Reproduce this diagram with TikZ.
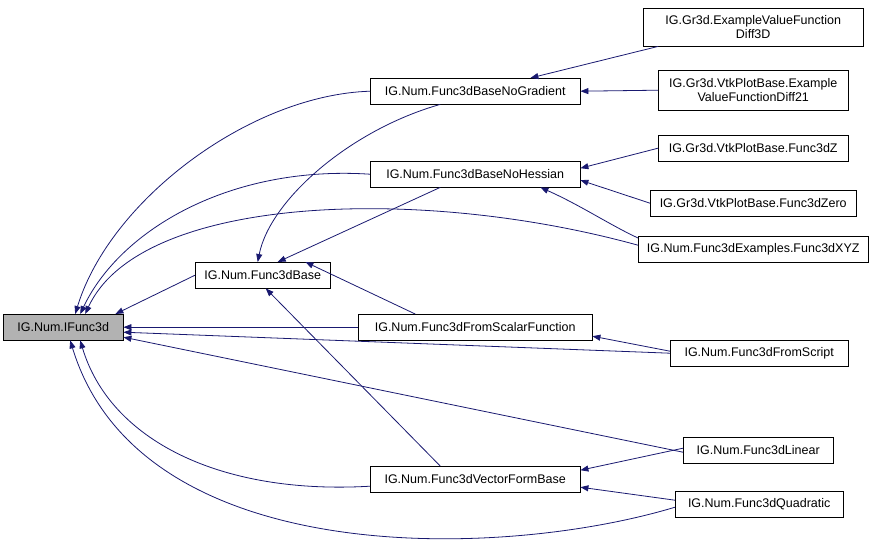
\documentclass[tikz,border=0pt]{standalone}
\usepackage{fontspec}
\setmainfont{Liberation Sans}
\usetikzlibrary{arrows.meta}
\begin{document}
\begin{tikzpicture}[x=1pt,y=-1pt,
 box/.style={draw,fill=white,inner sep=0pt,font=\fontsize{12.5}{14}\selectfont,align=center,anchor=north west},
 e/.style={draw={rgb,255:red,25;green,25;blue,112},-{Triangle[length=8pt,width=6pt]},line width=0.8pt}]
\useasboundingbox (0,0) rectangle (885,559);
\node[box,fill=gray!60,minimum width=120pt,minimum height=26pt] (if) at (3,314) {IG.Num.IFunc3d};
\node[box,minimum width=135pt,minimum height=26pt] (ba) at (195,262) {IG.Num.Func3dBase};
\node[box,minimum width=210pt,minimum height=26pt] (ng) at (370,78) {IG.Num.Func3dBaseNoGradient};
\node[box,minimum width=210pt,minimum height=26pt] (nh) at (370,161) {IG.Num.Func3dBaseNoHessian};
\node[box,minimum width=234pt,minimum height=26pt] (fs) at (358,314) {IG.Num.Func3dFromScalarFunction};
\node[box,minimum width=210pt,minimum height=26pt] (vf) at (370,466) {IG.Num.Func3dVectorFormBase};
\node[box,minimum width=220pt,minimum height=38pt] (d3) at (643,8) {IG.Gr3d.ExampleValueFunction\\Diff3D};
\node[box,minimum width=190pt,minimum height=40pt] (d21) at (658,70) {IG.Gr3d.VtkPlotBase.Example\\ValueFunctionDiff21};
\node[box,minimum width=190pt,minimum height=26pt] (z) at (658,135) {IG.Gr3d.VtkPlotBase.Func3dZ};
\node[box,minimum width=206pt,minimum height=26pt] (zo) at (650,190) {IG.Gr3d.VtkPlotBase.Func3dZero};
\node[box,minimum width=230pt,minimum height=26pt] (xyz) at (638,236) {IG.Num.Func3dExamples.Func3dXYZ};
\node[box,minimum width=178pt,minimum height=26pt] (scr) at (670,340) {IG.Num.Func3dFromScript};
\node[box,minimum width=150pt,minimum height=26pt] (lin) at (683,437) {IG.Num.Func3dLinear};
\node[box,minimum width=168pt,minimum height=26pt] (qu) at (675,491) {IG.Num.Func3dQuadratic};
% to IFunc3d
\draw[e] (ng.west) .. controls (250,95) and (110,200) .. ([xshift=12pt]if.north);
\draw[e] (nh.west) .. controls (230,165) and (120,230) .. ([xshift=17pt]if.north);
\draw[e] ([yshift=4pt]xyz.west) .. controls (420,185) and (140,195) .. ([xshift=22pt]if.north);
\draw[e] (ba.west) -- ([xshift=-8pt]if.north east);
\draw[e] (fs.west) -- (if.east);
\draw[e] (scr.west) -- ([yshift=-5pt]if.east);
\draw[e] ([yshift=-2pt]lin.west) -- ([yshift=-10pt]if.east);
\draw[e] ([yshift=-7pt]vf.west) .. controls (220,495) and (110,440) .. ([xshift=17pt]if.south);
\draw[e] ([yshift=-3pt]qu.west) .. controls (500,560) and (140,570) .. ([xshift=7pt]if.south);
% to Func3dBase
\draw[e] ([xshift=-35pt]ng.south) .. controls (350,130) and (270,200) .. ([xshift=-5pt]ba.north);
\draw[e] ([xshift=-35pt]nh.south) -- ([xshift=15pt]ba.north);
\draw[e] ([xshift=-60pt]fs.north) -- ([xshift=-25pt]ba.north east);
\draw[e] ([xshift=-35pt]vf.north) -- ([xshift=3pt]ba.south);
% others
\draw[e] ([xshift=-95pt]d3.south) -- ([xshift=-50pt]ng.north east);
\draw[e] (d21.west) -- (ng.east);
\draw[e] (z.west) -- ([yshift=6pt]nh.east);
\draw[e] (zo.west) -- ([yshift=-6pt]nh.east);
\draw[e] ([yshift=-2pt]xyz.north west) .. controls (610,225) and (580,205) .. ([xshift=-40pt]nh.south east);
\draw[e] ([yshift=2pt]scr.west) -- ([yshift=-9pt]fs.east);
\draw[e] ([yshift=2pt]lin.west) -- ([yshift=9pt]vf.east);
\draw[e] ([yshift=4pt]qu.west) -- ([yshift=-8pt]vf.east);
\end{tikzpicture}
\end{document}
